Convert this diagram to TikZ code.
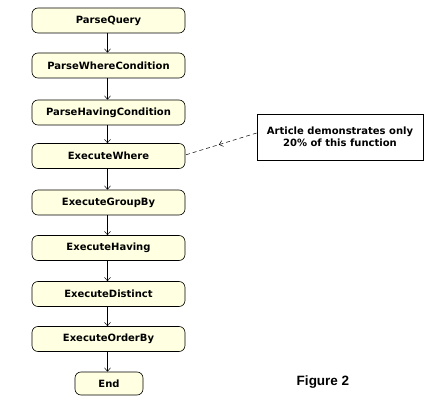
\documentclass[tikz,border=0pt]{standalone}
\usepackage{fontspec}
\setmainfont{DejaVu Sans}
\newfontfamily\figfont{Liberation Sans}
\usetikzlibrary{arrows.meta,decorations.markings}
\definecolor{boxfill}{RGB}{255,255,226}
\begin{document}
\begin{tikzpicture}[x=1pt,y=-1pt,
  stepbox/.style={draw=black,line width=0.6pt,fill=boxfill,rounded corners=6pt,
    minimum width=153pt,minimum height=25pt,inner sep=0pt,
    font=\fontsize{10}{12}\selectfont\bfseries},
  flow/.style={draw=black,line width=0.5pt,-{Straight Barb[length=3.5pt,width=6pt]}},
  notebox/.style={draw=black,line width=0.6pt,fill=white,minimum width=166pt,minimum height=46pt,
    inner sep=0pt,align=center,font=\fontsize{10}{11.5}\selectfont\bfseries}
]
\useasboundingbox (0,0) rectangle (431,403);
\fill[white] (0,0) rectangle (431,403);
\node[stepbox] (n1) at (108.5,20.5) {ParseQuery};
\node[stepbox] (n2) at (108.5,65.5) {ParseWhereCondition};
\node[stepbox] (n3) at (108.5,112.5) {ParseHavingCondition};
\node[stepbox] (n4) at (108.5,156) {ExecuteWhere};
\node[stepbox] (n5) at (108.5,202.5) {ExecuteGroupBy};
\node[stepbox] (n6) at (108.5,248) {ExecuteHaving};
\node[stepbox] (n7) at (108.5,294) {ExecuteDistinct};
\node[stepbox] (n8) at (108.5,339) {ExecuteOrderBy};
\node[stepbox,minimum width=68pt,minimum height=23pt] (n9) at (109,383.5) {End};
\foreach \a/\b in {n1/n2,n2/n3,n3/n4,n4/n5,n5/n6,n6/n7,n7/n8,n8/n9}
  \draw[flow] (\a.south -| 107.5,0) -- (\b.north -| 107.5,0);
\node[notebox] (note) at (340,137) {Article demonstrates only\\20\% of this function};
\draw[dashed,dash pattern=on 4pt off 3pt,line width=0.5pt,
  postaction={decorate,decoration={markings,mark=at position 0.53 with {\arrow{Straight Barb[length=3.5pt,width=6pt]}}}}]
  (note.west |- 0,133) -- (n4.east |- 0,155);
\node[font=\figfont\fontsize{13.5}{15}\selectfont\bfseries] (fig) at (323,382) {Figure 2};
\end{tikzpicture}
\end{document}
